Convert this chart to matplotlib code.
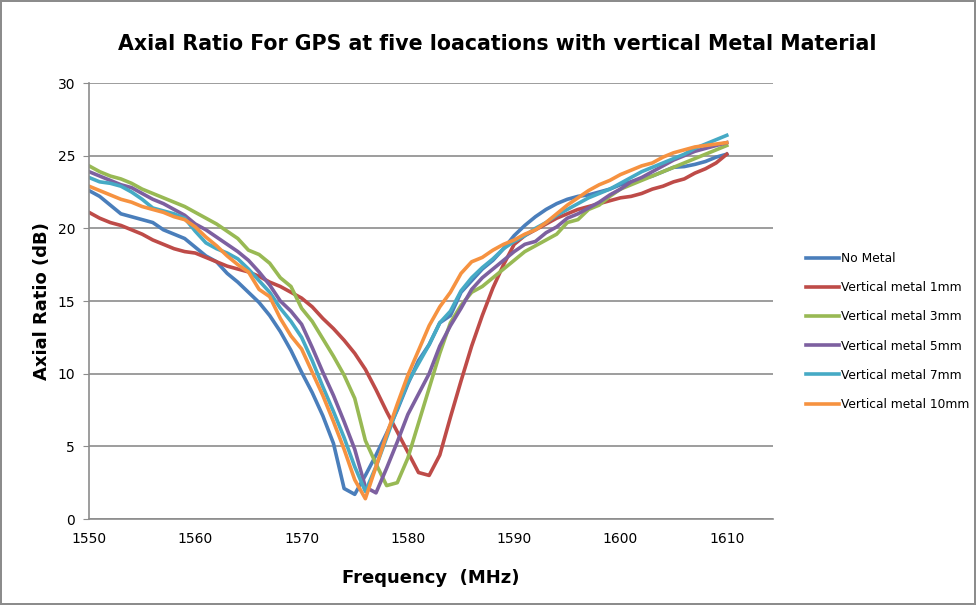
import matplotlib
matplotlib.use("Agg")
import matplotlib.pyplot as plt
import numpy as np

# frekwencje co 1 MHz
freq = list(range(1550, 1611))

no_metal = [22.6, 22.2, 21.6, 21.0, 20.8, 20.6, 20.4, 19.9, 19.6, 19.3,
            18.7, 18.1, 17.7, 16.9, 16.3, 15.6, 14.9, 14.0, 12.9, 11.6,
            10.1, 8.7, 7.1, 5.2, 2.1, 1.7, 3.0, 4.4, 5.9, 7.5,
            9.3, 10.9, 12.0, 13.5, 14.0, 15.6, 16.4, 17.2, 17.8, 18.6,
            19.5, 20.2, 20.8, 21.3, 21.7, 22.0, 22.2, 22.3, 22.5, 22.7,
            23.0, 23.2, 23.4, 23.6, 23.9, 24.2, 24.25, 24.4, 24.6, 24.9, 25.1]

metal_1mm = [21.1, 20.7, 20.4, 20.2, 19.9, 19.6, 19.2, 18.9, 18.6, 18.4,
             18.3, 18.0, 17.7, 17.4, 17.2, 17.0, 16.7, 16.3, 16.0, 15.6,
             15.2, 14.6, 13.8, 13.1, 12.3, 11.4, 10.3, 8.9, 7.4, 6.0,
             4.6, 3.2, 3.0, 4.4, 7.0, 9.5, 11.9, 14.0, 15.9, 17.5,
             18.9, 19.5, 19.9, 20.3, 20.7, 21.0, 21.3, 21.5, 21.7, 21.9,
             22.1, 22.2, 22.4, 22.7, 22.9, 23.2, 23.4, 23.8, 24.1, 24.5, 25.1]

metal_3mm = [24.3, 23.9, 23.6, 23.4, 23.1, 22.7, 22.4, 22.1, 21.8, 21.5,
             21.1, 20.7, 20.3, 19.8, 19.3, 18.5, 18.2, 17.6, 16.6, 16.0,
             14.5, 13.6, 12.4, 11.2, 9.9, 8.3, 5.4, 3.8, 2.3, 2.5,
             4.2, 6.6, 9.0, 11.4, 13.5, 14.7, 15.6, 16.0, 16.6, 17.2,
             17.8, 18.4, 18.8, 19.2, 19.6, 20.4, 20.6, 21.3, 21.6, 22.2,
             22.7, 23.0, 23.3, 23.6, 23.9, 24.2, 24.5, 24.8, 25.1, 25.4, 25.7]

metal_5mm = [23.9, 23.6, 23.3, 23.0, 22.8, 22.4, 22.0, 21.7, 21.3, 20.9,
             20.3, 19.9, 19.4, 18.9, 18.4, 17.8, 17.0, 16.1, 15.0, 14.3,
             13.4, 11.8, 10.1, 8.5, 6.7, 4.8, 2.2, 1.8, 3.5, 5.3,
             7.2, 8.6, 10.0, 11.9, 13.3, 14.5, 15.8, 16.6, 17.2, 17.8,
             18.4, 18.9, 19.1, 19.7, 20.1, 20.7, 21.0, 21.4, 21.8, 22.3,
             22.7, 23.2, 23.5, 23.9, 24.3, 24.7, 25.0, 25.3, 25.5, 25.7, 25.9]

metal_7mm = [23.5, 23.2, 23.1, 22.9, 22.5, 22.0, 21.4, 21.2, 21.0, 20.7,
             19.8, 19.0, 18.6, 18.3, 17.9, 17.2, 16.4, 15.6, 14.5, 13.6,
             12.5, 10.9, 9.1, 7.4, 5.6, 3.6, 1.9, 3.6, 5.6, 7.6,
             9.4, 10.7, 12.0, 13.5, 14.3, 15.7, 16.6, 17.3, 17.9, 18.6,
             19.1, 19.5, 20.0, 20.4, 20.9, 21.3, 21.7, 22.1, 22.4, 22.7,
             23.1, 23.5, 23.9, 24.2, 24.5, 24.8, 25.1, 25.5, 25.8, 26.1, 26.4]

metal_10mm = [22.9, 22.6, 22.3, 22.0, 21.8, 21.5, 21.3, 21.1, 20.8, 20.6,
              20.1, 19.4, 18.8, 18.1, 17.5, 17.0, 15.8, 15.3, 13.8, 12.6,
              11.7, 10.1, 8.5, 6.7, 4.8, 2.7, 1.4, 3.6, 5.8, 7.9,
              9.9, 11.6, 13.3, 14.6, 15.6, 16.9, 17.7, 18.0, 18.5, 18.9,
              19.2, 19.6, 19.9, 20.4, 21.0, 21.6, 22.1, 22.6, 23.0, 23.3,
              23.7, 24.0, 24.3, 24.5, 24.9, 25.2, 25.4, 25.6, 25.7, 25.8, 25.9]

serie = [
    ("No Metal", no_metal, "#4A7EBB"),
    ("Vertical metal 1mm", metal_1mm, "#BE4B48"),
    ("Vertical metal 3mm", metal_3mm, "#98B954"),
    ("Vertical metal 5mm", metal_5mm, "#7D60A0"),
    ("Vertical metal 7mm", metal_7mm, "#46AAC5"),
    ("Vertical metal 10mm", metal_10mm, "#F69240"),
]

fig = plt.figure(figsize=(9.76, 6.05), dpi=100)
fig.patch.set_edgecolor("#8c8c8c")
fig.patch.set_linewidth(1.5)
ax = fig.add_axes([0.0912, 0.1421, 0.7008, 0.7207])

for nazwa, wartosci, kolor in serie:
    ax.plot(freq, wartosci, color=kolor, lw=2.6, label=nazwa,
            solid_joinstyle="round")

ax.set_xlim(1550, 1614.35)
ax.set_ylim(0, 30)
ax.set_xticks(np.arange(1550, 1611, 10))
ax.set_yticks(np.arange(0, 31, 5))
ax.grid(axis="y", color="#8c8c8c", lw=1.2)
ax.set_axisbelow(True)
for s in ["top", "right"]:
    ax.spines[s].set_visible(False)
for s in ["left", "bottom"]:
    ax.spines[s].set_color("#8c8c8c")
    ax.spines[s].set_linewidth(1.2)
ax.tick_params(axis="y", length=4, color="#8c8c8c", labelsize=10, pad=6)
ax.tick_params(axis="x", length=0, labelsize=10, pad=9)

ax.set_xlabel("Frequency  (MHz)", fontsize=13, fontweight="bold", labelpad=17)
ax.set_ylabel("Axial Ratio (dB)", fontsize=13, fontweight="bold", labelpad=5)
fig.text(0.509, 0.928, "Axial Ratio For GPS at five loacations with vertical Metal Material",
         ha="center", va="center", fontsize=14.8, fontweight="bold")

ax.legend(loc="center left", bbox_to_anchor=(1.032, 0.43), frameon=False,
          fontsize=8.8, handlelength=2.7, handletextpad=0.2, labelspacing=1.32)

plt.savefig("out.png", dpi=100)
